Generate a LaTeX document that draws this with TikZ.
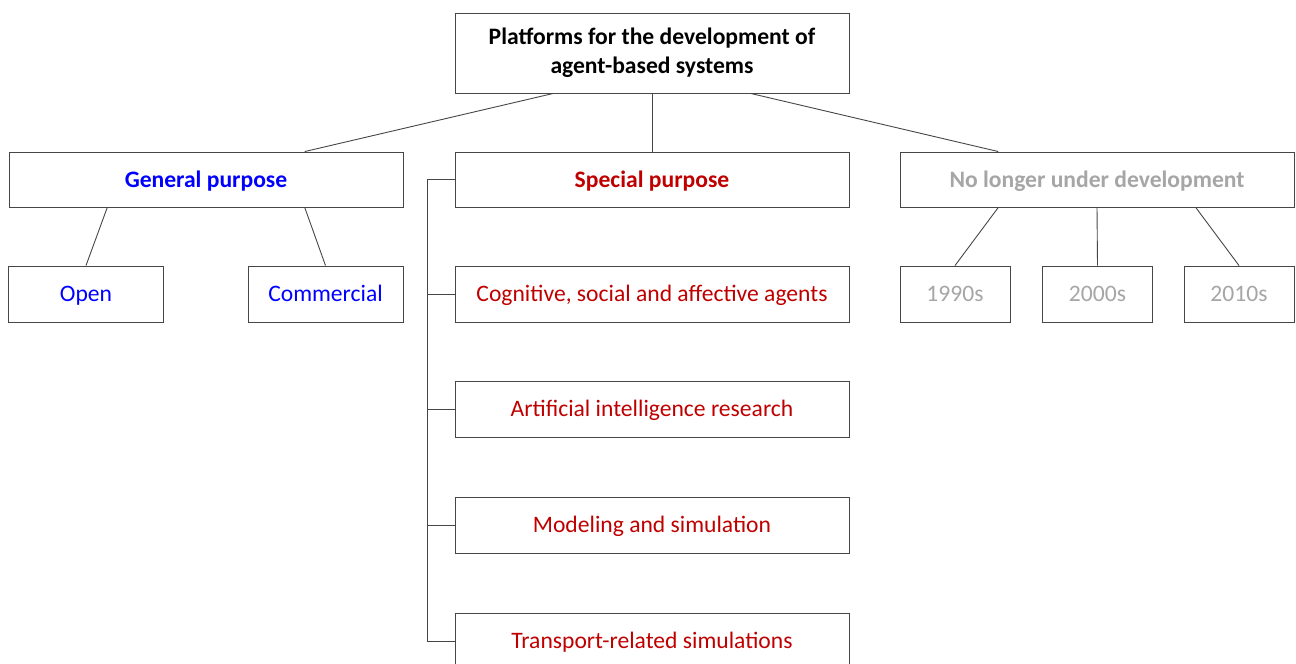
\documentclass[tikz,border=0pt]{standalone}
\usepackage{fontspec}
\setmainfont{Carlito}
\usetikzlibrary{calc}
\definecolor{gpblue}{RGB}{0,0,255}
\definecolor{spred}{RGB}{192,0,0}
\definecolor{oldgray}{RGB}{166,166,166}
\definecolor{edge}{RGB}{70,70,70}
\tikzset{
  box/.style={draw=edge, line width=0.9pt, fill=white, rectangle, inner sep=0pt,
    align=center, font=\fontsize{23.6}{29}\selectfont},
  line1/.style={text height=19pt, text depth=4pt},
  wide/.style={box, line1, minimum width=394pt, minimum height=55pt},
  small/.style={box, line1, minimum width=155pt, minimum height=56pt},
  tiny/.style={box, line1, minimum width=110pt, minimum height=56pt},
  bold/.style={font=\fontsize{23.6}{29}\selectfont\bfseries},
  link/.style={draw=edge, line width=0.9pt},
}
\begin{document}
\begin{tikzpicture}[x=1pt,y=-1pt]
\useasboundingbox (0,0) rectangle (1296,664);
% root
\node[box, minimum width=394pt, minimum height=80pt, bold] (root) at (652,53)
  {Platforms for the development of\\agent-based systems};
% main categories
\node[wide, bold, text=gpblue] (gen) at (206,179.5) {General purpose};
\node[wide, bold, text=spred] (spec) at (652,179.5) {Special purpose};
\node[wide, bold, text=oldgray] (old) at (1097,179.5) {No longer under development};
% general purpose children
\node[small, text=gpblue] (open) at (86,294) {Open};
\node[small, text=gpblue] (comm) at (325.5,294) {Commercial};
% no longer under development children
\node[tiny, text=oldgray] (y90) at (955,294) {1990s};
\node[tiny, text=oldgray] (y00) at (1097.5,294) {2000s};
\node[tiny, text=oldgray] (y10) at (1239,294) {2010s};
% special purpose children
\node[wide, minimum height=56pt, text=spred] (cog) at (652,294) {Cognitive, social and affective agents};
\node[wide, minimum height=56pt, text=spred] (ai) at (652,409) {Artificial intelligence research};
\node[wide, minimum height=56pt, text=spred] (mod) at (652,525) {Modeling and simulation};
\node[wide, minimum height=56pt, text=spred] (tra) at (652,641) {Transport-related simulations};
% links from the root
\draw[link] ($(root.south west)!0.25!(root.south east)$) -- ($(gen.north west)!0.75!(gen.north east)$);
\draw[link] (root.south) -- (spec.north);
\draw[link] ($(root.south west)!0.75!(root.south east)$) -- ($(old.north west)!0.25!(old.north east)$);
% links below general purpose
\draw[link] ($(gen.south west)!0.25!(gen.south east)$) -- (open.north);
\draw[link] ($(gen.south west)!0.75!(gen.south east)$) -- (comm.north);
% links below no longer under development
\draw[link] ($(old.south west)!0.25!(old.south east)$) -- (y90.north);
\draw[link] (old.south) -- (y00.north);
\draw[link] ($(old.south west)!0.75!(old.south east)$) -- (y10.north);
% bracket for special purpose
\coordinate (bus) at ($(spec.west)+(-27,0)$);
\draw[link] (spec.west) -- (bus) |- (tra.west);
\foreach \n in {cog,ai,mod} \draw[link] (\n.west) -- (bus |- \n.west);
\end{tikzpicture}
\end{document}
